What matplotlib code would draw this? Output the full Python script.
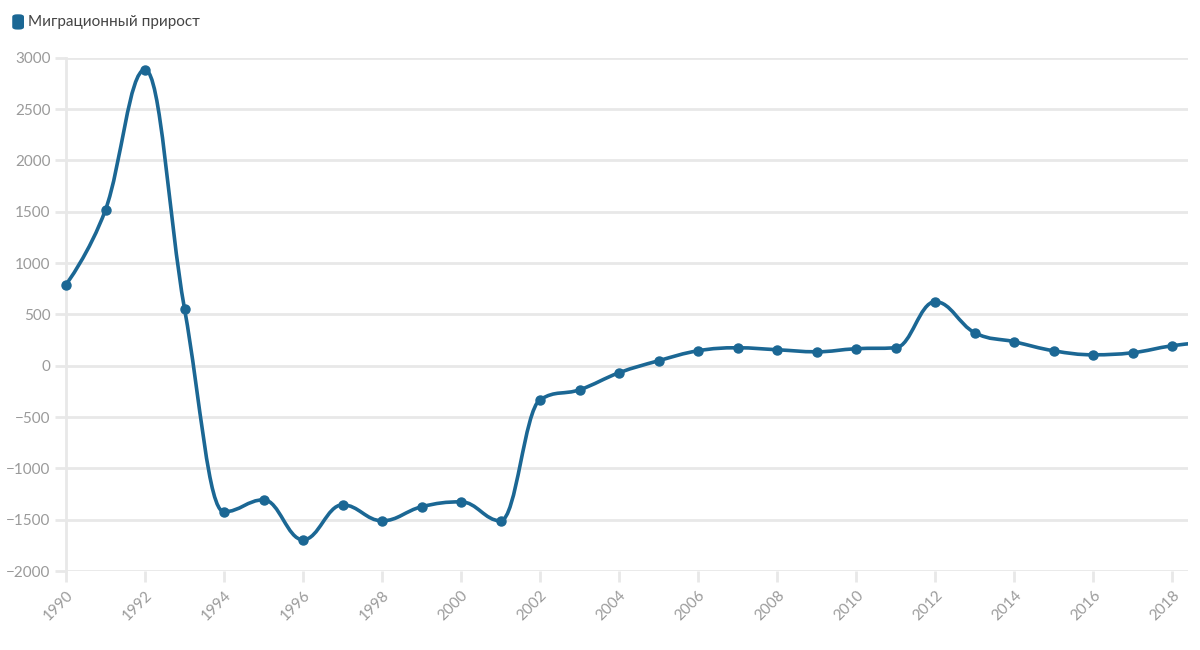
import numpy as np
import matplotlib.pyplot as plt
from matplotlib.path import Path
from matplotlib.patches import PathPatch, FancyBboxPatch

# Migration growth by year
years = list(range(1990, 2020))
values = [790, 1520, 2885, 555, -1423, -1306, -1696, -1355, -1511, -1374,
          -1326, -1511, -331, -234, -68, 49, 146, 175, 156, 136,
          166, 175, 624, 322, 234, 146, 107, 127, 195, 235]
series_name = 'Миграционный прирост'
y_ticks = list(range(-2000, 3001, 500))
x_ticks = list(range(1990, 2019, 2))

color = '#1b6794'
grid_color = '#e8e8e8'
label_color = '#9a9a9a'

plt.rcParams['font.family'] = ['Lato', 'DejaVu Sans']

fig = plt.figure(figsize=(12, 6.5), dpi=100)
ax = fig.add_axes([0.055, 0.1215, 0.935, 0.7895])


def spline_path(xs, ys, smoothing=1.5):
    # smooth bezier through every point, similar to web chart splines
    n = len(xs)
    left = [None] * n
    right = [None] * n
    for i in range(n):
        x, y = xs[i], ys[i]
        if i == 0 or i == n - 1:
            left[i] = (x, y)
            right[i] = (x, y)
            continue
        d = smoothing + 1
        lx = (smoothing * x + xs[i - 1]) / d
        ly = (smoothing * y + ys[i - 1]) / d
        rx = (smoothing * x + xs[i + 1]) / d
        ry = (smoothing * y + ys[i + 1]) / d
        corr = (ry - ly) * (rx - x) / (rx - lx) + y - ry
        ly += corr
        ry += corr
        if ly > ys[i - 1] and ly > y:
            ly = max(ys[i - 1], y)
            ry = 2 * y - ly
        elif ly < ys[i - 1] and ly < y:
            ly = min(ys[i - 1], y)
            ry = 2 * y - ly
        if ry > ys[i + 1] and ry > y:
            ry = max(ys[i + 1], y)
            ly = 2 * y - ry
        elif ry < ys[i + 1] and ry < y:
            ry = min(ys[i + 1], y)
            ly = 2 * y - ry
        left[i] = (lx, ly)
        right[i] = (rx, ry)
    verts = [(xs[0], ys[0])]
    codes = [Path.MOVETO]
    for i in range(1, n):
        verts += [right[i - 1], left[i], (xs[i], ys[i])]
        codes += [Path.CURVE4] * 3
    return Path(verts, codes)


ax.add_patch(PathPatch(spline_path(years, values), facecolor='none',
                       edgecolor=color, lw=2.6, capstyle='round', zorder=3))
ax.plot(years, values, 'o', color=color, markersize=6.5, zorder=4, clip_on=False)

ax.set_xlim(1990, 2018.4)
ax.set_ylim(-2000, 3000)
ax.set_yticks(y_ticks)
ax.set_xticks(x_ticks)
ax.set_xticklabels([str(t) for t in x_ticks], rotation=45, ha='right',
                   rotation_mode='anchor')
ax.tick_params(axis='both', colors=grid_color, labelcolor=label_color,
               labelsize=11, length=8, width=2)
ax.tick_params(axis='x', pad=4)
ax.tick_params(axis='y', pad=3)

ax.grid(axis='y', color=grid_color, lw=2)
ax.set_axisbelow(True)
for side in ['top', 'right', 'bottom']:
    ax.spines[side].set_visible(False)
ax.spines['left'].set_color(grid_color)
ax.spines['left'].set_linewidth(2)

# legend
fig.patches.append(FancyBboxPatch((0.0102, 0.9545), 0.0098, 0.0235,
                                  boxstyle='round,pad=0,rounding_size=0.004',
                                  transform=fig.transFigure, facecolor=color,
                                  edgecolor='none'))
fig.text(0.0232, 0.9655, series_name, fontsize=11, color='#444444',
         va='center', ha='left')

fig.savefig('out.png', dpi=100)
